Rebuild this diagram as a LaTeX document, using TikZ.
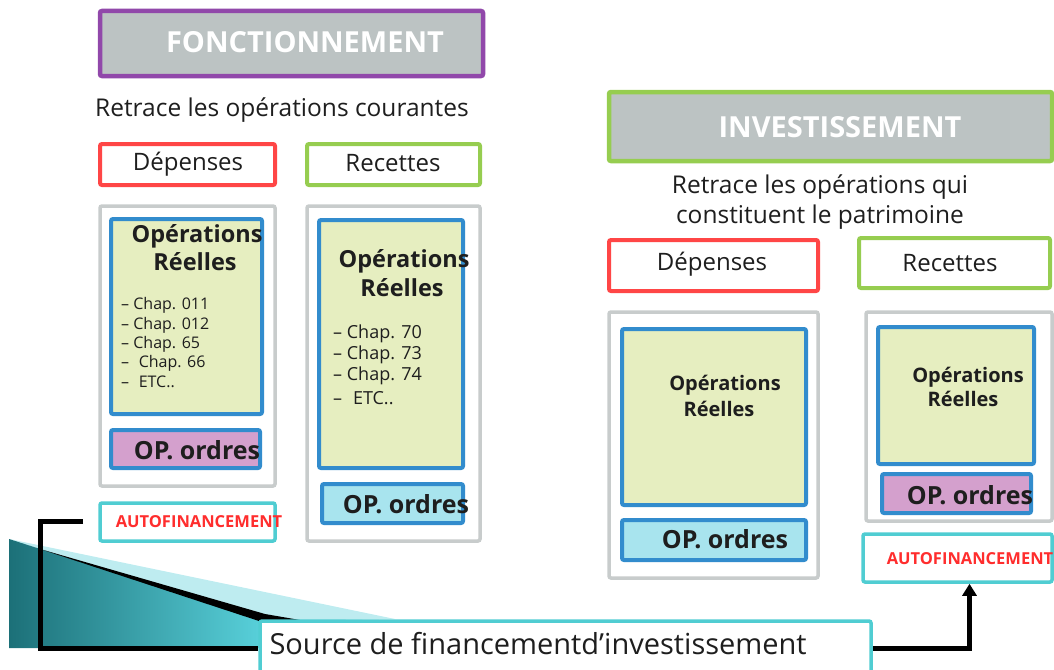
\documentclass[tikz,border=0pt]{standalone}
\usepackage{fontspec}
\setmainfont{Open Sans}
\usetikzlibrary{fit,arrows.meta}
\definecolor{cpurple}{RGB}{145,72,170}
\definecolor{cgrayfill}{RGB}{188,195,195}
\definecolor{cred}{RGB}{255,70,70}
\definecolor{cgreen}{RGB}{150,205,80}
\definecolor{cblue}{RGB}{50,140,205}
\definecolor{cpale}{RGB}{230,238,192}
\definecolor{cpink}{RGB}{212,160,205}
\definecolor{clblue}{RGB}{168,228,238}
\definecolor{ccyan}{RGB}{80,205,210}
\definecolor{cgrayline}{RGB}{200,204,204}
\definecolor{ctextred}{RGB}{255,45,45}
\definecolor{ctxt}{RGB}{30,30,30}
\definecolor{tealdark}{RGB}{28,112,120}
\definecolor{tealmid}{RGB}{88,208,218}
\definecolor{teallight}{RGB}{190,236,240}
\begin{document}
\begin{tikzpicture}[x=1pt,y=-1pt,
  box/.style={rectangle,inner sep=0pt,line width=4pt,rounded corners=2pt},
  titlebox/.style={box,draw=#1,fill=cgrayfill,line width=4.5pt},
  headbox/.style={box,draw=#1,fill=white},
  graybox/.style={box,draw=cgrayline,fill=white,line width=3.5pt},
  realbox/.style={box,draw=cblue,fill=cpale,line width=4pt},
  ordbox/.style={box,draw=cblue,fill=#1,line width=4pt},
  autobox/.style={box,draw=ccyan,fill=white,line width=3.5pt},
  tx/.style={yshift=-2pt},
  titletxt/.style={tx,text=white,font=\bfseries\fontsize{29}{32}\selectfont},
  subtxt/.style={tx,text=ctxt,font=\fontsize{24.5}{30}\selectfont,align=center},
  headtxt/.style={tx,text=ctxt,font=\fontsize{24}{26}\selectfont},
  realtxt/.style={tx,text=ctxt,font=\bfseries\fontsize{#1}{#1}\selectfont},
  listtxt/.style={tx,text=ctxt,font=\fontsize{#1}{#1}\selectfont,anchor=west,inner sep=0pt},
  ordtxt/.style={tx,text=ctxt,font=\bfseries\fontsize{#1}{#1}\selectfont},
  autotxt/.style={tx,text=ctextred,font=\bfseries\fontsize{#1}{#1}\selectfont},
  conn/.style={line width=5pt,black},
]
\useasboundingbox (0,0) rectangle (1054,669);

% ---------- FONCTIONNEMENT ----------
\node[titlebox=cpurple, fit={(100,11) (483,76)}] (tF) {};
\node[titletxt] (tFt) at (305,40) {FONCTIONNEMENT};
\node[subtxt] (sF) at (282,108) {Retrace les opérations courantes};

\node[headbox=cred, fit={(100,144) (275,185)}] (depL) {};
\node[headtxt] (depLt) at (188,162) {Dépenses};
\node[headbox=cgreen, fit={(307,144) (480,185)}] (recL) {};
\node[headtxt] (recLt) at (393,161) {Recettes};

% left column (dépenses fonctionnement)
\node[graybox, fit={(100,206) (275,486)}] (gL) {};
\node[realbox, fit={(111,219) (262,414)}] (rL) {};
\node[realtxt=23.5] (rLa) at (197,234) {Opérations};
\node[realtxt=23.5] (rLb) at (195,260) {Réelles};
\node[listtxt=16] (l1) at (121,303) {– Chap. 011};
\node[listtxt=16] (l2) at (121,323) {– Chap. 012};
\node[listtxt=16] (l3) at (121,342) {– Chap. 65};
\node[listtxt=16] (l4) at (121,361) {–\hspace{0.6em}Chap. 66};
\node[listtxt=16] (l5) at (121,380) {–\hspace{0.6em}ETC..};
\node[ordbox=cpink, fit={(111,430) (260,468)}] (oL) {};
\node[ordtxt=25] (oLt) at (197,448) {OP. ordres};

\node[autobox, fit={(100,503) (275,541)}] (aL) {};
\node[autotxt=16.5] (aLt) at (199,520) {AUTOFINANCEMENT};

% right column (recettes fonctionnement)
\node[graybox, fit={(307,206) (480,541)}] (gR) {};
\node[realbox, fit={(319,220) (463,468)}] (rR) {};
\node[realtxt=23.5] (rRa) at (404,259) {Opérations};
\node[realtxt=23.5] (rRb) at (402,286) {Réelles};
\node[listtxt=18] (m1) at (333,332) {– Chap. 70};
\node[listtxt=18] (m2) at (333,353) {– Chap. 73};
\node[listtxt=18] (m3) at (333,374) {– Chap. 74};
\node[listtxt=18] (m4) at (333,396) {–\hspace{0.6em}ETC..};
\node[ordbox=clblue, fit={(322,484) (463,523)}] (oR) {};
\node[ordtxt=25] (oRt) at (406,502) {OP. ordres};

% ---------- INVESTISSEMENT ----------
\node[titlebox=cgreen, fit={(609,92) (1052,161)}] (tI) {};
\node[titletxt] (tIt) at (840,125) {INVESTISSEMENT};
\node[subtxt] (sI) at (820,200) {Retrace les opérations qui\\constituent le patrimoine};

\node[headbox=cred, fit={(609,240) (818,291)}] (depR) {};
\node[headtxt] (depRt) at (712,262) {Dépenses};
\node[headbox=cgreen, fit={(859,238) (1050,288)}] (recR) {};
\node[headtxt] (recRt) at (950,261) {Recettes};

\node[graybox, fit={(609,312) (818,578)}] (gI) {};
\node[realbox, fit={(622,329) (806,505)}] (rI) {};
\node[realtxt=20] (rIa) at (725,383) {Opérations};
\node[realtxt=20] (rIb) at (719,407) {Réelles};
\node[ordbox=clblue, fit={(622,520) (806,560)}] (oI) {};
\node[ordtxt=25] (oIt) at (725,537) {OP. ordres};

\node[graybox, fit={(866,312) (1052,521)}] (gJ) {};
\node[realbox, fit={(878,327) (1034,464)}] (rJ) {};
\node[realtxt=20] (rJa) at (968,375) {Opérations};
\node[realtxt=20] (rJb) at (963,397) {Réelles};
\node[ordbox=cpink, fit={(882,474) (1031,513)}] (oJ) {};
\node[ordtxt=25] (oJt) at (970,493) {OP. ordres};

\node[autobox, fit={(863,534) (1052,582)}] (aR) {};
\node[autotxt=16.5] (aRt) at (970,557) {AUTOFINANCEMENT};

% ---------- wedge ----------
\fill[teallight] (9,539) -- (395,619) -- (262,621) -- cycle;
\shade[left color=tealdark,right color=tealmid] (9,539) -- (262,620) -- (262,648) -- (9,648) -- cycle;
\fill[black] (40,549) -- (265,614) -- (300,620) -- (262,622) -- cycle;

% ---------- source ----------
\node[autobox, fit={(260,621) (871,676)}] (src) {};
\node[text=ctxt,font=\fontsize{29}{32}\selectfont,anchor=west,yshift=-2pt] (srct) at (266,642) {Source de financementd’investissement};

% ---------- connectors ----------
\coordinate (lstart) at (83,521);
\draw[conn] (lstart) -- (40,521) |- (src.west);
\draw[conn,-{Triangle[length=12pt,width=14pt]}] (src.east) -| ([xshift=12pt]aR.south);
\end{tikzpicture}
\end{document}
